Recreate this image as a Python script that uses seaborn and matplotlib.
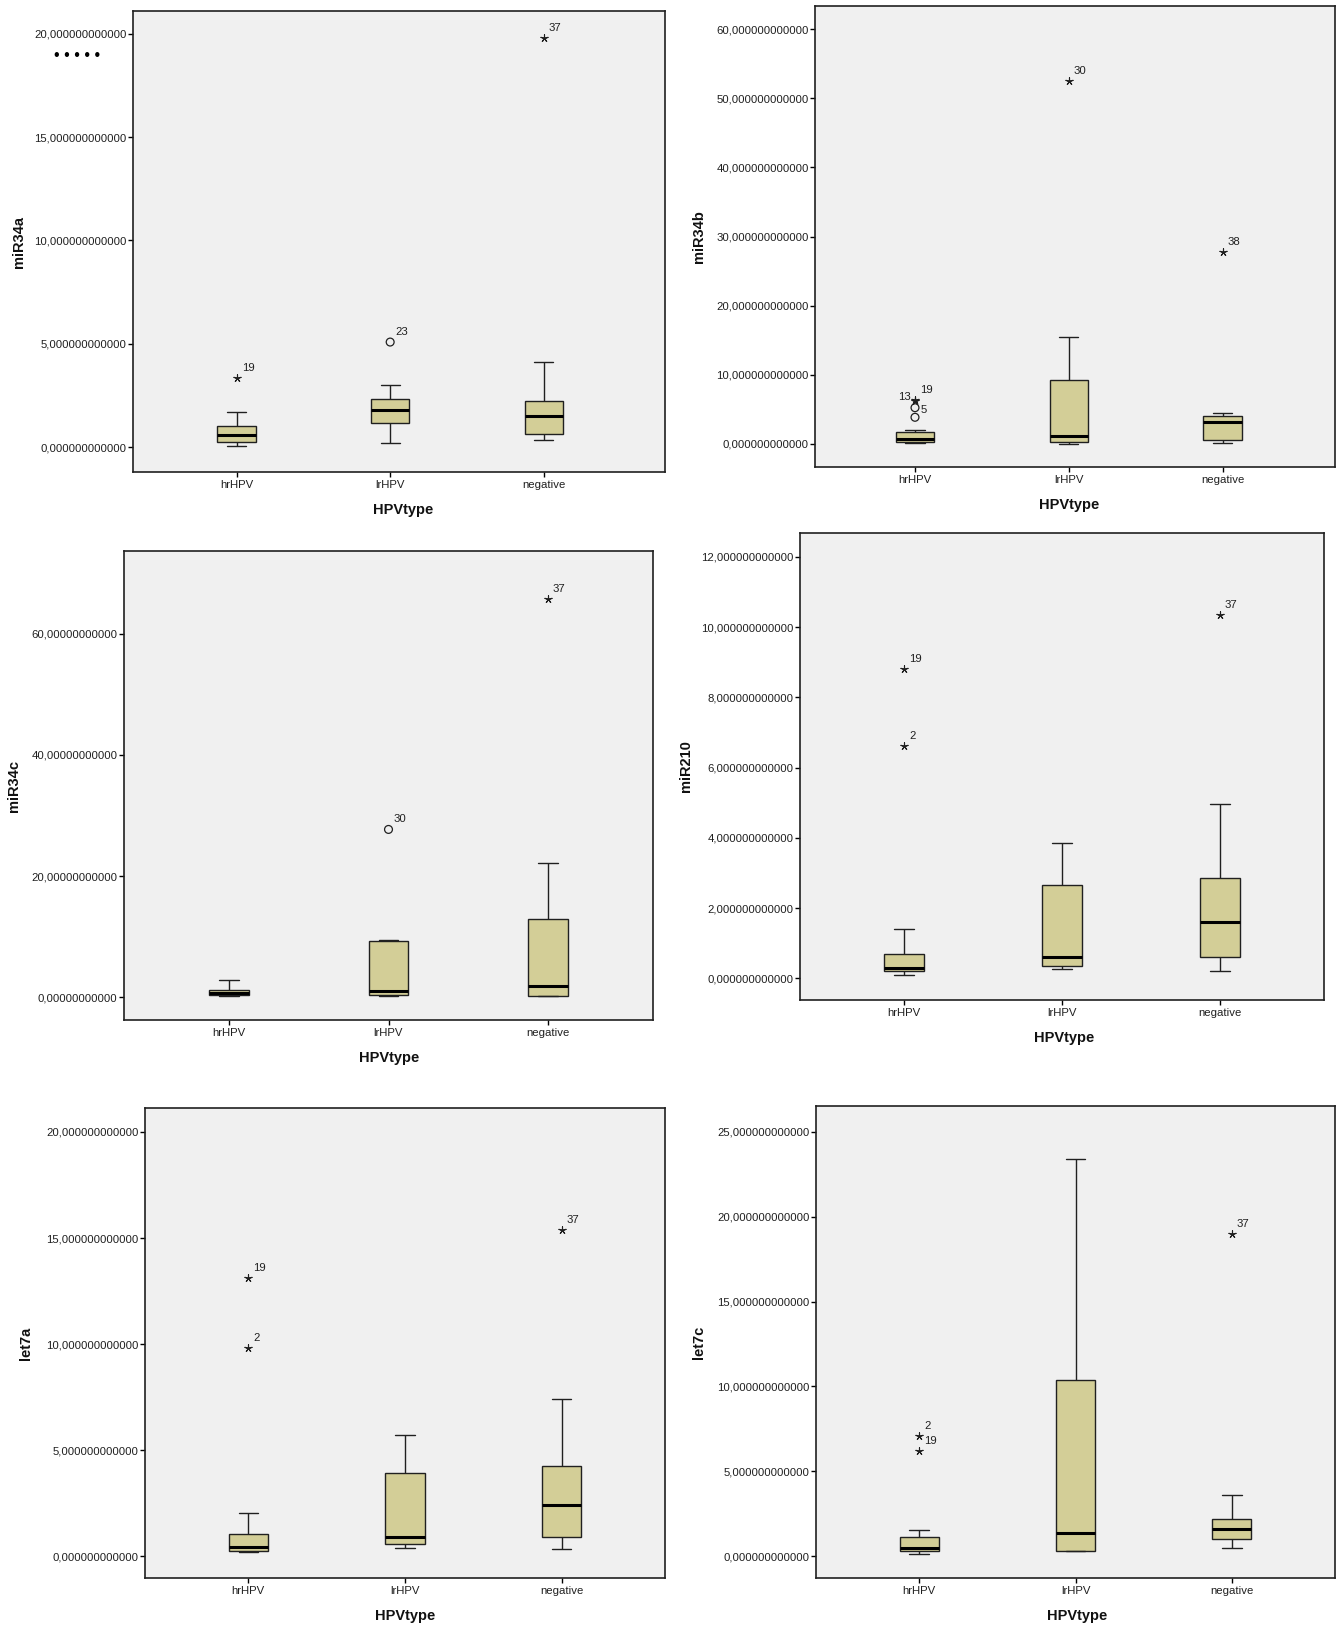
import numpy as np
import pandas as pd
import matplotlib
matplotlib.use("Agg")
import matplotlib.pyplot as plt
import seaborn as sns

W, H = 1340, 1630

groups = ["hrHPV", "lrHPV", "negative"]

# five-number summary per group: low whisker, Q1, median, Q3, high whisker
mir34a_box = [[0.05, 0.27, 0.62, 1.01, 1.72],
              [0.22, 1.18, 1.83, 2.34, 3.03],
              [0.38, 0.66, 1.54, 2.24, 4.11]]
mir34b_box = [[0.13, 0.27, 0.71, 1.76, 2.00],
              [0.05, 0.25, 1.10, 9.20, 15.50],
              [0.20, 0.55, 3.20, 4.06, 4.50]]
mir34c_box = [[0.15, 0.40, 0.74, 1.25, 2.80],
              [0.20, 0.33, 1.04, 9.30, 9.40],
              [0.20, 0.27, 1.82, 12.87, 22.16]]
mir210_box = [[0.10, 0.20, 0.30, 0.70, 1.40],
              [0.25, 0.35, 0.60, 2.65, 3.85],
              [0.20, 0.60, 1.60, 2.85, 4.95]]
let7a_box = [[0.20, 0.25, 0.45, 1.05, 2.05],
             [0.40, 0.55, 0.90, 3.90, 5.70],
             [0.35, 0.90, 2.40, 4.25, 7.40]]
let7c_box = [[0.10, 0.30, 0.50, 1.15, 1.55],
             [0.30, 0.30, 1.35, 10.40, 23.40],
             [0.50, 1.00, 1.60, 2.20, 3.60]]

# outliers: group, value, case label, kind ("o" outlier, "*" extreme)
mir34a_out = [("hrHPV", 3.33, "19", "*"), ("lrHPV", 5.09, "23", "o"),
              ("negative", 19.79, "37", "*")]
mir34b_out = [("hrHPV", 3.85, "", "o"), ("hrHPV", 5.24, "5", "o"),
              ("hrHPV", 6.25, "13", "*"), ("hrHPV", 6.30, "19", "*"),
              ("lrHPV", 52.5, "30", "*"), ("negative", 27.7, "38", "*")]
mir34c_out = [("lrHPV", 27.7, "30", "o"), ("negative", 65.7, "37", "*")]
mir210_out = [("hrHPV", 8.8, "19", "*"), ("hrHPV", 6.6, "2", "*"),
              ("negative", 10.35, "37", "*")]
let7a_out = [("hrHPV", 13.1, "19", "*"), ("hrHPV", 9.8, "2", "*"),
             ("negative", 15.4, "37", "*")]
let7c_out = [("hrHPV", 7.1, "2", "*"), ("hrHPV", 6.2, "19", "*"),
             ("negative", 19.0, "37", "*")]

BOX = "#D3CE97"
BG = "#F0F0F0"
INK = "#202020"

sns.set_theme(style="white")
plt.rcParams["font.family"] = ["Liberation Sans", "DejaVu Sans"]

fig = plt.figure(figsize=(W / 100, H / 100), dpi=100)
fig.patch.set_facecolor("white")

# panel: name, box stats, outliers, axes px (left, top, right, bottom), ylim, xlim,
#        yticks, decimals, ylabel x px, xlabel x px
panels = [
    ("miR34a", mir34a_box, mir34a_out, (133, 11, 665, 472), (-1.19, 21.09), (-0.675, 2.79), np.arange(0, 21, 5), 12, 19, 403),
    ("miR34b", mir34b_box, mir34b_out, (815, 6, 1335, 467), (-3.34, 63.34), (-0.65, 2.73), np.arange(0, 61, 10), 12, 699, 1069),
    ("miR34c", mir34c_box, mir34c_out, (124, 551, 653, 1020), (-3.75, 73.65), (-0.66, 2.66), np.arange(0, 61, 20), 11, 14, 389),
    ("miR210", mir210_box, mir210_out, (800, 533, 1324, 1000), (-0.62, 12.68), (-0.66, 2.66), np.arange(0, 13, 2), 12, 686, 1064),
    ("let7a", let7a_box, let7a_out, (145, 1108, 665, 1578), (-1.03, 21.13), (-0.66, 2.66), np.arange(0, 21, 5), 12, 26, 405),
    ("let7c", let7c_box, let7c_out, (816, 1106, 1335, 1578), (-1.29, 26.53), (-0.66, 2.66), np.arange(0, 26, 5), 12, 699, 1077),
]

for name, box, outs, (l, t, r, b), ylim, xlim, yticks, dec, ylab_x, xlab_x in panels:
    ax = fig.add_axes([l / W, 1 - b / H, (r - l) / W, (b - t) / H])
    ax.set_facecolor(BG)

    df = pd.DataFrame([(g, v) for g, row in zip(groups, box) for v in row],
                      columns=["HPVtype", name])
    sns.boxplot(data=df, x="HPVtype", y=name, order=groups, ax=ax,
                whis=(0, 100), showfliers=False, width=0.25, color=BOX,
                saturation=1, linewidth=1, linecolor=INK,
                medianprops={"color": "black", "linewidth": 2.2},
                whiskerprops={"color": INK, "linewidth": 1},
                capprops={"color": INK, "linewidth": 1})

    for g, v, lab, kind in outs:
        xi = groups.index(g)
        if kind == "o":
            ax.scatter([xi], [v], s=32, facecolors="none", edgecolors=INK,
                       linewidths=0.9, zorder=5)
        else:
            ax.scatter([xi], [v], s=28, marker=(5, 2, 0), color=INK,
                       linewidths=0.8, zorder=5)
        if lab:
            if lab == "13":
                ax.annotate(lab, (xi, v), xytext=(-4, 4), textcoords="offset pixels",
                            ha="right", va="center", fontsize=8.2, color=INK)
            elif lab == "5":
                ax.annotate(lab, (xi, v), xytext=(6, -2), textcoords="offset pixels",
                            ha="left", va="center", fontsize=8.2, color=INK)
            else:
                ax.annotate(lab, (xi, v), xytext=(5, 10), textcoords="offset pixels",
                            ha="left", va="center", fontsize=8.2, color=INK)

    ax.set_xlim(*xlim)
    ax.set_ylim(*ylim)
    ax.set_yticks(yticks)
    ax.set_yticklabels([f"{v:.{dec}f}".replace(".", ",") for v in yticks])
    ax.tick_params(axis="both", direction="out", length=3.6, width=1, color="black",
                   labelsize=8.2, labelcolor=INK, left=True, bottom=True)
    ax.tick_params(axis="y", pad=1)
    ax.tick_params(axis="x", pad=2)
    for sp in ax.spines.values():
        sp.set_visible(True)
        sp.set_color(INK)
        sp.set_linewidth(1.2)

    ax.set_xlabel("HPVtype", fontsize=10.5, fontweight="bold", color="#111111")
    ax.xaxis.set_label_coords((xlab_x - l) / (r - l), -38 / (b - t))
    ax.xaxis.label.set_va("center")
    ax.set_ylabel(name, fontsize=10.5, fontweight="bold", color="#111111")
    ax.yaxis.set_label_coords((ylab_x - l) / (r - l), 0.5)
    ax.yaxis.label.set_va("center")

# stray marks left of the first panel
fig.text(54 / W, 1 - 56 / H, "• • • • •", fontsize=11.5, color="black",
         ha="left", va="center")

fig.savefig("out.png", dpi=100, facecolor="white")
